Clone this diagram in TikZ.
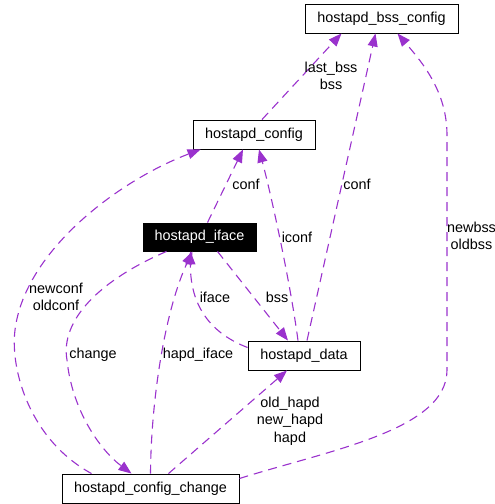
\documentclass[tikz,border=0pt]{standalone}
\usepackage{fontspec}
\setmainfont{Liberation Sans}
\usepackage{tikz}
\usetikzlibrary{arrows.meta}
\definecolor{orchid purple}{rgb}{0.6039, 0.1961, 0.8039}

\begin{document}
\begin{tikzpicture}[x=1pt, y=-1pt,
		structbox/.style = {draw, line width=0.9pt, inner sep=0pt, minimum height=29pt,
			font=\fontsize{14.4}{17.5}\selectfont},
		member/.style = {orchid purple, line width=1.1pt, dash pattern=on 9pt off 6pt,
			-{Triangle[length=13pt, width=10pt]}},
		memberlabel/.style = {align=center, inner sep=0pt, font=\fontsize{14.4}{17.5}\selectfont}]
		\useasboundingbox (0, 0) rectangle (495, 504);
		% the structs
		\node[structbox, minimum width=153pt] (bssconf) at (381.5, 18.5) {hostapd\_bss\_config};
		\node[structbox, minimum width=122pt] (conf) at (254, 134.5) {hostapd\_config};
		\node[structbox, minimum width=113pt, minimum height=28pt, fill=black, text=white] (iface) at (199.5, 237) {hostapd\_iface};
		\node[structbox, minimum width=112pt] (data) at (304, 355.5) {hostapd\_data};
		\node[structbox, minimum width=177pt] (chg) at (150.5, 488.5) {hostapd\_config\_change};
		% members pointing to hostapd_bss_config
		\draw[member] ([xshift=8pt]conf.north) -- ([xshift=-40pt]bssconf.south);
		\draw[member] ([xshift=3pt]data.north) -- ([xshift=-6pt]bssconf.south);
		\draw[member] ([yshift=10pt]chg.east)
			.. controls (330, 450) and (447, 430) .. (447, 370)
			-- (447, 135)
			.. controls (447, 90) and (420, 60) .. ([xshift=16pt]bssconf.south);
		% members pointing to hostapd_config
		\draw[member] ([xshift=8pt]iface.north) -- ([xshift=-11pt]conf.south);
		\draw[member] ([xshift=-6pt]data.north)
			.. controls (290, 280) and (270, 190) .. ([xshift=5pt]conf.south);
		\draw[member] ([xshift=-59pt]chg.north)
			.. controls (30, 440) and (10, 370) .. (15, 330)
			.. controls (25, 250) and (120, 180) .. ([xshift=8pt]conf.south west);
		% members between hostapd_iface and hostapd_data
		\draw[member] ([xshift=18pt]iface.south) -- ([xshift=-16pt]data.north);
		\draw[member] ([yshift=8pt]data.west)
			.. controls (215, 335) and (190, 310) .. ([xshift=-9pt]iface.south);
		% members of hostapd_config_change
		\draw[member] ([xshift=-33pt]iface.south)
			.. controls (100, 280) and (60, 320) .. (67, 360)
			.. controls (72, 410) and (100, 450) .. ([xshift=-19pt]chg.north);
		\draw[member] (chg.north)
			.. controls (151, 400) and (165, 310) .. ([xshift=-7pt]iface.south);
		\draw[member] ([xshift=18pt]chg.north) -- ([xshift=-17pt]data.south);
		% labels
		\node[memberlabel] (lbssconf) at (331, 76) {last\_bss\\bss};
		\node[memberlabel] (ldataconf) at (357, 184) {conf};
		\node[memberlabel] (lnewbss) at (471.5, 236) {newbss\\oldbss};
		\node[memberlabel] (lifaceconf) at (246, 184) {conf};
		\node[memberlabel] (liconf) at (297, 237) {iconf};
		\node[memberlabel] (lnewconf) at (56, 297) {newconf\\oldconf};
		\node[memberlabel] (lbss) at (277, 297) {bss};
		\node[memberlabel] (liface) at (215, 297) {iface};
		\node[memberlabel] (lchange) at (93, 355) {change};
		\node[memberlabel] (lhapdiface) at (198, 355) {hapd\_iface};
		\node[memberlabel] (lhapd) at (290, 421) {old\_hapd\\new\_hapd\\hapd};
\end{tikzpicture}
\end{document}
